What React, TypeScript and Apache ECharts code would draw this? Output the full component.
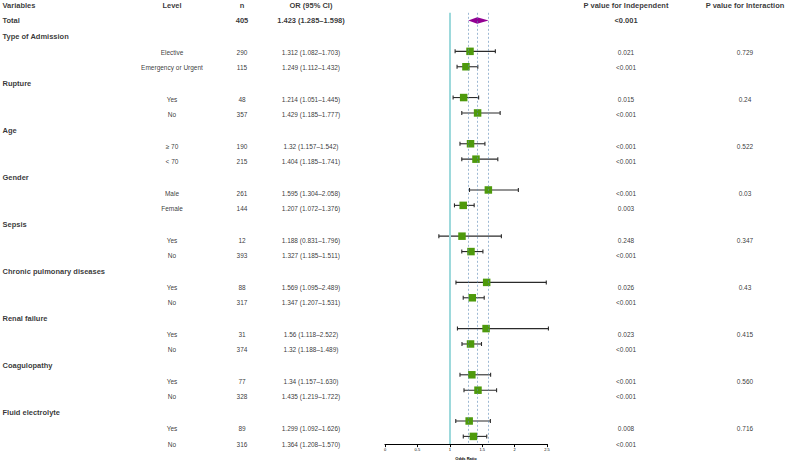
import React, { useEffect, useRef } from "react";
import * as echarts from "echarts";

const headers = ["Variables", "Level", "n", "OR (95% CI)", "P value for Independent", "P value for Interaction"];
const totalLabel = "Total";
const totalN = 405;
const totalOR = 1.423;
const totalLower = 1.285;
const totalUpper = 1.598;
const totalCI = "1.423 (1.285–1.598)";
const totalP = "<0.001";

const groups = ["Type of Admission", "Rupture", "Age", "Gender", "Sepsis", "Chronic pulmonary diseases", "Renal failure", "Coagulopathy", "Fluid electrolyte"];
const levels = ["Elective", "Emergency or Urgent", "Yes", "No", "≥ 70", "< 70", "Male", "Female", "Yes", "No", "Yes", "No", "Yes", "No", "Yes", "No", "Yes", "No"];
const nValues = [290, 115, 48, 357, 190, 215, 261, 144, 12, 393, 88, 317, 31, 374, 77, 328, 89, 316];
const orValues = [1.312, 1.249, 1.214, 1.429, 1.32, 1.404, 1.595, 1.207, 1.188, 1.327, 1.569, 1.347, 1.56, 1.32, 1.34, 1.435, 1.299, 1.364];
const lowerCI = [1.082, 1.112, 1.051, 1.185, 1.157, 1.185, 1.304, 1.072, 0.831, 1.185, 1.095, 1.207, 1.118, 1.188, 1.157, 1.219, 1.092, 1.208];
const upperCI = [1.703, 1.432, 1.445, 1.777, 1.542, 1.741, 2.058, 1.376, 1.796, 1.511, 2.489, 1.531, 2.522, 1.489, 1.63, 1.722, 1.626, 1.57];
const ciLabels = [
  "1.312 (1.082–1.703)", "1.249 (1.112–1.432)", "1.214 (1.051–1.445)", "1.429 (1.185–1.777)",
  "1.32 (1.157–1.542)", "1.404 (1.185–1.741)", "1.595 (1.304–2.058)", "1.207 (1.072–1.376)",
  "1.188 (0.831–1.796)", "1.327 (1.185–1.511)", "1.569 (1.095–2.489)", "1.347 (1.207–1.531)",
  "1.56 (1.118–2.522)", "1.32 (1.188–1.489)", "1.34 (1.157–1.630)", "1.435 (1.219–1.722)",
  "1.299 (1.092–1.626)", "1.364 (1.208–1.570)",
];
const pIndependent = ["0.021", "<0.001", "0.015", "<0.001", "<0.001", "<0.001", "<0.001", "0.003", "0.248", "<0.001", "0.026", "<0.001", "0.023", "<0.001", "<0.001", "<0.001", "0.008", "<0.001"];
const pInteraction = ["0.729", "0.24", "0.522", "0.03", "0.347", "0.43", "0.415", "0.560", "0.716"];
const axisTitle = "Odds Ratio";

const FONT = "'Liberation Sans', Arial, Helvetica, sans-serif";
const W = 787;
const H = 465;
// column anchor positions (layout)
const COL_X = [2, 172, 242, 311, 626, 745];
const ROWS = 2 + groups.length * 3; // header + total + groups

function buildTable() {
  const cols: any[][] = [[], [], [], [], [], []];
  const bold = { fontWeight: "bold", fontSize: 7.5 };
  const reg = { fontWeight: "normal", fontSize: 6.5 };
  headers.forEach((h, c) => cols[c].push({ name: h, value: [COL_X[c], 0], label: bold }));
  cols[0].push({ name: totalLabel, value: [COL_X[0], 1], label: bold });
  cols[2].push({ name: String(totalN), value: [COL_X[2], 1], label: bold });
  cols[3].push({ name: totalCI, value: [COL_X[3], 1], label: bold });
  cols[4].push({ name: totalP, value: [COL_X[4], 1], label: bold });
  groups.forEach((g, gi) => {
    const gr = 2 + gi * 3;
    cols[0].push({ name: g, value: [COL_X[0], gr], label: bold });
    for (let k = 0; k < 2; k++) {
      const i = gi * 2 + k;
      const r = gr + 1 + k;
      cols[1].push({ name: levels[i], value: [COL_X[1], r], label: reg });
      cols[2].push({ name: String(nValues[i]), value: [COL_X[2], r], label: reg });
      cols[3].push({ name: ciLabels[i], value: [COL_X[3], r], label: reg });
      cols[4].push({ name: pIndependent[i], value: [COL_X[4], r], label: reg });
      if (k === 0) cols[5].push({ name: pInteraction[gi], value: [COL_X[5], r], label: reg });
    }
  });
  return cols.map((data, c) => ({
    type: "scatter",
    xAxisIndex: 1,
    yAxisIndex: 1,
    symbolSize: 1,
    itemStyle: { color: "transparent" },
    silent: true,
    clip: false,
    data,
    label: {
      show: true,
      position: c === 0 ? "right" : "inside",
      distance: 0,
      formatter: (p: any) => p.name,
      color: "#000",
      textBorderWidth: 0,
      fontFamily: FONT,
    },
  }));
}

function buildForestData() {
  const out: any[] = [];
  groups.forEach((_, gi) => {
    for (let k = 0; k < 2; k++) {
      const i = gi * 2 + k;
      out.push([lowerCI[i], upperCI[i], 3 + gi * 3 + k, orValues[i]]);
    }
  });
  return out;
}

export default function App() {
  const ref = useRef<HTMLDivElement>(null);
  useEffect(() => {
    document.body.style.margin = "0";
    const chart = echarts.init(ref.current!, null, { renderer: "svg" });
    const option: any = {
      animation: false,
      backgroundColor: "#fff",
      grid: [
        { left: 385, width: 162, top: 12.84, height: 439.04 },
        { left: 0, width: W, top: 5, height: 439 },
      ],
      xAxis: [
        {
          type: "value",
          gridIndex: 0,
          min: 0,
          max: 2.5,
          interval: 0.5,
          splitLine: { show: false },
          axisLine: { show: true, lineStyle: { color: "#000", width: 1.2 } },
          axisTick: { show: true, length: 3, lineStyle: { color: "#000", width: 1 } },
          axisLabel: { fontSize: 4, color: "#000", margin: 3, fontFamily: FONT },
          name: axisTitle,
          nameLocation: "middle",
          nameGap: 9,
          nameTextStyle: { fontSize: 4, color: "#000", fontFamily: FONT, fontWeight: "bold" },
        },
        { type: "value", gridIndex: 1, min: 0, max: W, show: false },
      ],
      yAxis: [
        { type: "value", gridIndex: 0, min: 0.5, max: ROWS - 0.5, inverse: true, show: false },
        { type: "value", gridIndex: 1, min: 0, max: ROWS - 1, inverse: true, show: false },
      ],
      series: [
        {
          type: "line",
          data: [],
          z: 1,
          markLine: {
            silent: true,
            symbol: "none",
            label: { show: false },
            data: [
              { xAxis: 1, lineStyle: { color: "#9dd9dc", width: 2, type: "solid" } },
              { xAxis: totalLower, lineStyle: { color: "#5a88b5", width: 0.6, type: [2, 2] } },
              { xAxis: totalOR, lineStyle: { color: "#5a88b5", width: 0.6, type: [2, 2] } },
              { xAxis: totalUpper, lineStyle: { color: "#5a88b5", width: 0.6, type: [2, 2] } },
            ],
          },
        },
        {
          type: "custom",
          z: 3,
          silent: true,
          clip: false,
          encode: { x: [0, 1, 3], y: 2 },
          data: buildForestData(),
          renderItem: (params: any, api: any) => {
            const row = api.value(2);
            const l = api.coord([api.value(0), row]);
            const u = api.coord([api.value(1), row]);
            const c = api.coord([api.value(3), row]);
            const cap = 2;
            const s = 7.5;
            const ls = { stroke: "#2b2b2b", lineWidth: 1.1 };
            return {
              type: "group",
              children: [
                { type: "line", shape: { x1: l[0], y1: l[1], x2: u[0], y2: u[1] }, style: ls },
                { type: "line", shape: { x1: l[0], y1: l[1] - cap, x2: l[0], y2: l[1] + cap }, style: ls },
                { type: "line", shape: { x1: u[0], y1: u[1] - cap, x2: u[0], y2: u[1] + cap }, style: ls },
                { type: "rect", shape: { x: c[0] - s / 2, y: c[1] - s / 2, width: s, height: s }, style: { fill: "#4e9a0c" } },
              ],
            };
          },
        },
        {
          type: "custom",
          z: 3,
          silent: true,
          clip: false,
          encode: { x: [0, 1, 3], y: 2 },
          data: [[totalLower, totalUpper, 1, totalOR]],
          renderItem: (params: any, api: any) => {
            const row = api.value(2);
            const l = api.coord([api.value(0), row]);
            const u = api.coord([api.value(1), row]);
            const c = api.coord([api.value(3), row]);
            const h = 3.2;
            return {
              type: "polygon",
              shape: { points: [[l[0], l[1]], [c[0], c[1] - h], [u[0], u[1]], [c[0], c[1] + h]] },
              style: { fill: "#930093" },
            };
          },
        },
        ...buildTable(),
      ],
    };
    chart.setOption(option);
    return () => chart.dispose();
  }, []);
  return <div ref={ref} style={{ position: "absolute", left: 0, top: 0, width: W, height: H }} />;
}
